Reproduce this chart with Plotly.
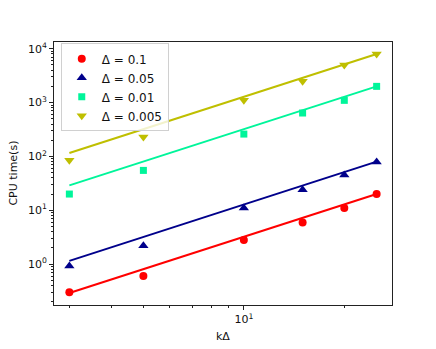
import numpy as np
import plotly.graph_objects as go

# kΔ values and CPU times for each Δ
k_delta = [3, 5, 10, 15, 20, 25]
labels = ["Δ = 0.1", "Δ = 0.05", "Δ = 0.01", "Δ = 0.005"]
cpu_01 = [0.3, 0.6, 2.8, 5.9, 11, 20]
cpu_005 = [0.92, 2.2, 11, 24, 45, 79]
cpu_001 = [20, 55, 260, 640, 1100, 2000]
cpu_0005 = [85, 230, 1100, 2500, 5000, 8000]

# fitted power-law lines (value at first and last kΔ)
fit_01 = [0.29, 20]
fit_005 = [1.15, 80]
fit_001 = [29, 2000]
fit_0005 = [116, 8000]

series = [
    (labels[0], cpu_01, fit_01, "#ff0000", "circle", 8),
    (labels[1], cpu_005, fit_005, "#00008b", "triangle-up", 9),
    (labels[2], cpu_001, fit_001, "#00f59a", "square", 7),
    (labels[3], cpu_0005, fit_0005, "#bfbf00", "triangle-down", 9),
]

fig = go.Figure()
x_ends = [k_delta[0], k_delta[-1]]
for name, y, fit, color, sym, size in series:
    fig.add_trace(go.Scatter(x=x_ends, y=fit, mode="lines",
                             line=dict(color=color, width=2), showlegend=False))
for name, y, fit, color, sym, size in series:
    fig.add_trace(go.Scatter(x=k_delta, y=y, mode="markers", name=name,
                             marker=dict(color=color, symbol=sym, size=size)))

# matplotlib-like 5% margins in log space
def log_range(vals):
    lo, hi = np.log10(min(vals)), np.log10(max(vals))
    pad = 0.05 * (hi - lo)
    return [lo - pad, hi + pad]

all_y = cpu_01 + cpu_005 + cpu_001 + cpu_0005 + fit_01 + fit_005 + fit_001 + fit_0005
xr = log_range(k_delta)
yr = log_range(all_y)

y_major = [10.0 ** p for p in range(0, 5)]
y_minor = [m * 10.0 ** p for p in range(-1, 5) for m in range(2, 10)]
x_minor = [m * 10.0 ** p for p in range(0, 2) for m in range(2, 10)]

axis_common = dict(type="log", showline=True, linecolor="#222", linewidth=1,
                   mirror=True, showgrid=False, zeroline=False, automargin=False,
                   ticks="outside", ticklen=4, tickcolor="#222",
                   tickfont=dict(family="DejaVu Sans", size=11, color="#111"))

fig.update_xaxes(**axis_common, range=xr, tickvals=[10],
                 ticktext=["10<sup>1</sup>"],
                 minor=dict(tickvals=x_minor, ticks="outside", ticklen=2, tickcolor="#222"))
fig.update_yaxes(**axis_common, range=yr, tickvals=y_major,
                 ticktext=["10<sup>%d</sup>" % p for p in range(0, 5)],
                 minor=dict(tickvals=y_minor, ticks="outside", ticklen=2, tickcolor="#222"))

title_font = dict(family="DejaVu Sans", size=11, color="#111")
fig.add_annotation(text="kΔ", xref="paper", yref="paper", x=0.5, y=-0.12,
                   xanchor="center", yanchor="middle", showarrow=False, font=title_font)
fig.add_annotation(text="CPU time(s)", xref="paper", yref="paper", x=-0.121, y=0.5,
                   xanchor="center", yanchor="middle", textangle=-90, showarrow=False,
                   font=title_font)

fig.update_layout(
    width=436, height=349,
    margin=dict(l=54, r=44, t=42, b=44),
    plot_bgcolor="white", paper_bgcolor="white",
    legend=dict(x=0.02, y=0.995, xanchor="left", yanchor="top",
                bgcolor="rgba(255,255,255,0.8)", bordercolor="#d0d0d0", borderwidth=1,
                font=dict(family="DejaVu Sans", size=12, color="#111"),
                tracegroupgap=0),
)

# drop the browser's default body margin so the figure sits at the page corner
fig.write_html("out.html", config={"displayModeBar": False},
               post_script="document.body.style.margin='0';")
